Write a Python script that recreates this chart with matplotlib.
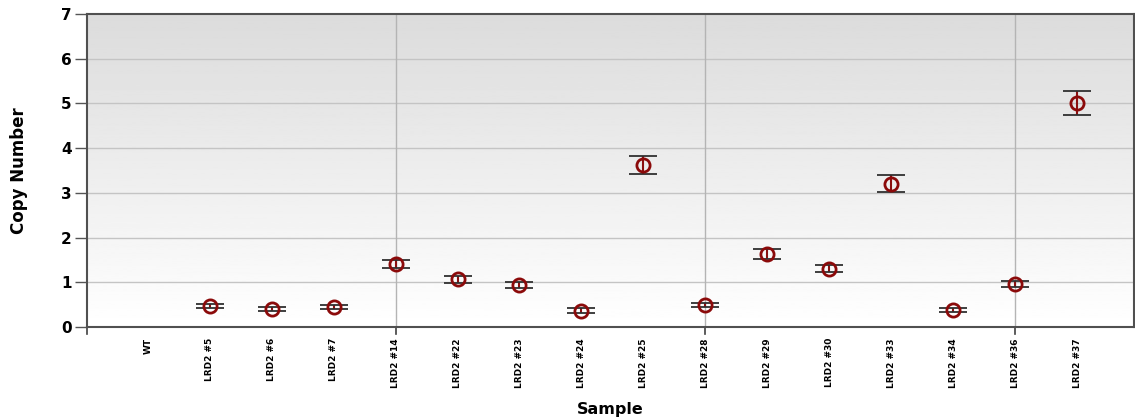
import numpy as np
from matplotlib import pyplot as plt

# sample names and copy number values
samples = ['WT', 'LRD2 #5', 'LRD2 #6', 'LRD2 #7', 'LRD2 #14', 'LRD2 #22', 'LRD2 #23',
           'LRD2 #24', 'LRD2 #25', 'LRD2 #28', 'LRD2 #29', 'LRD2 #30', 'LRD2 #33',
           'LRD2 #34', 'LRD2 #36', 'LRD2 #37']
copy_number = [np.nan, 0.47, 0.40, 0.45, 1.41, 1.07, 0.94, 0.36, 3.62, 0.49, 1.63,
               1.30, 3.20, 0.38, 0.96, 5.01]
err = [np.nan, 0.05, 0.05, 0.05, 0.08, 0.08, 0.07, 0.055, 0.20, 0.05, 0.11,
       0.08, 0.19, 0.05, 0.07, 0.27]

plt.rcParams['font.family'] = 'DejaVu Sans'
fig = plt.figure(figsize=(11.35, 4.2), dpi=100)
ax = fig.add_axes([0.0767, 0.2214, 0.9225, 0.7453])

x = np.arange(len(samples))
xlim = (-0.98, 15.92)
ax.set_xlim(xlim)
ax.set_ylim(0, 7)

# gradient background, grey at top to white at bottom
grad = np.linspace(0.86, 1.0, 256).reshape(-1, 1)
ax.imshow(grad, extent=[xlim[0], xlim[1], 0, 7], origin='upper', cmap='gray',
          vmin=0, vmax=1, aspect='auto', zorder=0)

for yv in range(1, 7):
    ax.axhline(yv, color='#c4c4c4', lw=1, zorder=1)
for xv in [4, 9, 14]:
    ax.axvline(xv, color='#b4b4b4', lw=1, zorder=1)

# error bars: red stem, dark caps
ax.errorbar(x, copy_number, yerr=err, fmt='none', ecolor='#8b1010', elinewidth=1.5,
            capsize=0, zorder=2)
ax.errorbar(x, copy_number, yerr=err, fmt='none', ecolor='#303030', elinewidth=0,
            capsize=10, capthick=1.3, zorder=2)
ax.plot(x, copy_number, 'o', mfc='none', mec='#8b0a0a', mew=2, ms=9.5, zorder=3)

ax.set_xticks(x)
ax.set_xticklabels(samples, rotation=90, fontsize=6.5, fontweight='bold')
ax.tick_params(axis='x', length=0, pad=8)
for xv in [-0.98, 4, 9, 14]:
    ax.plot([xv, xv], [0, -0.15], color='#404040', lw=1.2, clip_on=False)

ax.set_yticks(range(8))
ax.set_yticklabels([str(v) for v in range(8)], fontsize=11, fontweight='bold')
ax.tick_params(axis='y', length=9, width=1, color='#555555', pad=2)

for side in ['left', 'bottom', 'top', 'right']:
    ax.spines[side].set_color('#505050')
    ax.spines[side].set_linewidth(1.5)

ax.set_ylabel('Copy Number', fontsize=12, fontweight='bold', labelpad=24)
ax.set_xlabel('Sample', fontsize=11.5, fontweight='bold', labelpad=10)

fig.savefig('out.png', dpi=100)
